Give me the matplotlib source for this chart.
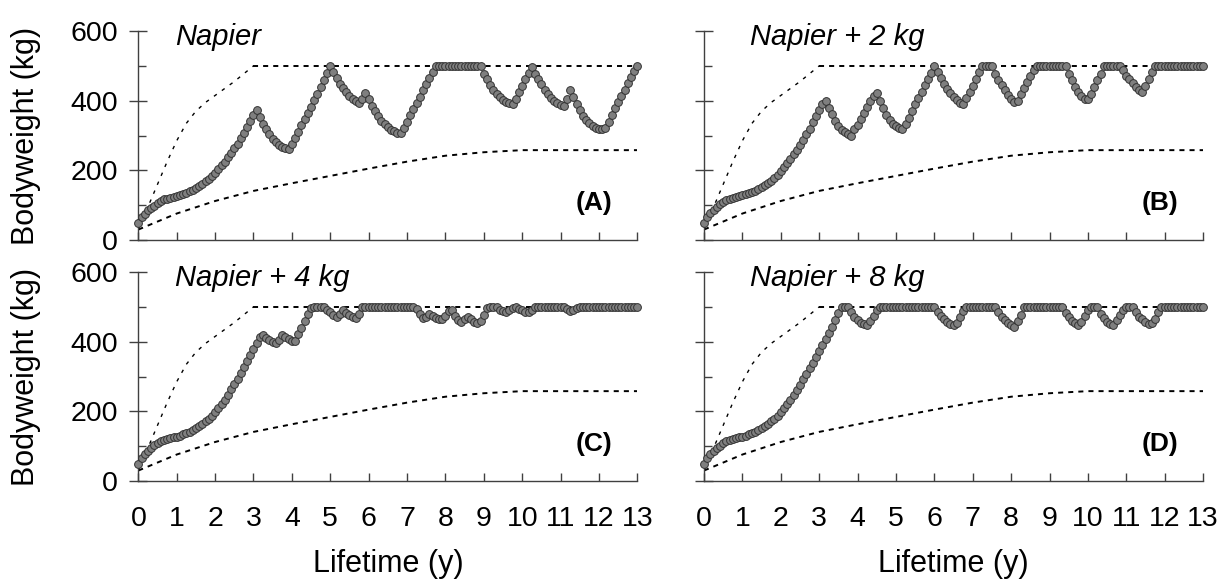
import numpy as np
import matplotlib.pyplot as plt

plt.rcParams['font.family'] = ['Liberation Sans', 'DejaVu Sans']

# monthly bodyweight (kg), one row per year of life, last value = month 156
napier = [
    50, 65, 76, 85, 92, 99, 106, 113, 117, 119, 121, 123,
    126, 129, 132, 136, 140, 144, 149, 155, 161, 168, 176, 184,
    193, 203, 214, 225, 237, 250, 263, 277, 292, 308, 325, 342,
    360, 372, 352, 334, 318, 304, 291, 281, 273, 267, 263, 261,
    275, 293, 311, 329, 347, 365, 383, 401, 420, 440, 460, 480,
    500, 482, 464, 449, 435, 424, 413, 404, 398, 393, 405, 421,
    404, 386, 370, 355, 342, 332, 324, 317, 312, 308, 306, 322,
    340, 358, 376, 394, 412, 430, 447, 464, 482, 500, 500, 500,
    500, 500, 500, 500, 500, 500, 500, 500, 500, 500, 500, 500,
    478, 462, 446, 431, 420, 410, 402, 396, 392, 390, 406, 424,
    442, 461, 480, 496, 478, 462, 447, 432, 420, 409, 400, 393,
    388, 386, 405, 430, 410, 390, 372, 357, 344, 335, 328, 323,
    320, 319, 322, 340, 360, 378, 396, 414, 432, 450, 467, 484,
    500,
]

napier_2kg = [
    50, 66, 78, 87, 95, 102, 110, 116, 119, 121, 123, 125,
    128, 131, 134, 138, 142, 146, 151, 157, 163, 170, 178, 188,
    198, 209, 221, 233, 246, 259, 272, 287, 303, 320, 338, 357,
    374, 390, 398, 378, 362, 343, 328, 316, 310, 303, 300, 318,
    331, 347, 364, 382, 399, 413, 421, 400, 378, 359, 344, 334,
    326, 322, 320, 333, 351, 371, 390, 407, 425, 444, 463, 480,
    500, 481, 464, 448, 433, 422, 412, 402, 394, 391, 408, 425,
    443, 462, 482, 500, 500, 500, 500, 476, 458, 444, 430, 417,
    406, 397, 400, 418, 437, 455, 472, 488, 500, 500, 500, 500,
    500, 500, 500, 500, 500, 500, 478, 458, 440, 424, 413, 406,
    404, 420, 438, 458, 478, 500, 500, 500, 500, 500, 500, 488,
    472, 461, 450, 440, 431, 426, 442, 462, 483, 500, 500, 500,
    500, 500, 500, 500, 500, 500, 500, 500, 500, 500, 500, 500,
    500,
]

napier_4kg = [
    50, 66, 78, 87, 95, 102, 110, 116, 119, 121, 123, 125,
    127, 130, 134, 138, 142, 147, 152, 158, 164, 171, 179, 188,
    198, 209, 221, 234, 248, 263, 278, 294, 310, 327, 344, 361,
    378, 396, 414, 420, 410, 404, 398, 395, 404, 420, 413, 407,
    403, 402, 421, 440, 460, 480, 496, 500, 500, 500, 500, 490,
    486, 478, 472, 480, 490, 482, 477, 472, 468, 480, 500, 500,
    500, 500, 500, 500, 500, 500, 500, 500, 500, 500, 500, 500,
    500, 500, 500, 495, 480, 468, 471, 480, 473, 467, 464, 466,
    473, 488, 492, 475, 461, 457, 466, 470, 464, 457, 454, 459,
    478, 498, 500, 500, 500, 492, 487, 485, 490, 497, 500, 495,
    490, 486, 485, 492, 500, 500, 500, 500, 500, 500, 500, 500,
    500, 500, 494, 488, 490, 497, 500, 500, 500, 500, 500, 500,
    500, 500, 500, 500, 500, 500, 500, 500, 500, 500, 500, 500,
    500,
]

napier_8kg = [
    50, 67, 78, 87, 94, 101, 109, 116, 119, 121, 123, 125,
    127, 130, 134, 138, 142, 147, 152, 158, 164, 171, 179, 188,
    198, 209, 221, 234, 248, 262, 277, 292, 308, 324, 340, 356,
    372, 390, 408, 425, 443, 462, 481, 500, 500, 500, 484, 470,
    461, 455, 450, 449, 458, 475, 490, 500, 500, 500, 500, 500,
    500, 500, 500, 500, 500, 500, 500, 500, 500, 500, 500, 500,
    500, 486, 474, 464, 456, 450, 447, 455, 470, 487, 500, 500,
    500, 500, 500, 500, 500, 500, 500, 500, 484, 472, 462, 455,
    448, 443, 458, 478, 500, 500, 500, 500, 500, 500, 500, 500,
    500, 500, 500, 500, 500, 482, 470, 460, 454, 448, 456, 473,
    492, 500, 500, 500, 480, 467, 457, 450, 448, 462, 476, 490,
    500, 500, 500, 484, 472, 464, 457, 451, 453, 464, 484, 500,
    500, 500, 500, 500, 500, 500, 500, 500, 500, 500, 500, 500,
    500,
]

# upper and lower reference growth curves
upper_age = [0, 0.25, 0.5, 0.75, 1.0, 1.25, 1.5, 1.75, 2.0, 2.5, 3.0, 13]
upper_bw = [30, 95, 160, 225, 285, 335, 370, 395, 415, 455, 500, 500]
lower_age = [0, 1, 2, 3, 4, 5, 6, 7, 8, 9, 10, 13]
lower_bw = [30, 76, 112, 141, 163, 184, 205, 225, 242, 252, 258, 258]

titles = ['Napier', 'Napier + 2 kg', 'Napier + 4 kg', 'Napier + 8 kg']
letters = ['(A)', '(B)', '(C)', '(D)']
series = [napier, napier_2kg, napier_4kg, napier_8kg]

age = np.arange(len(napier)) / 12.0

fig = plt.figure(figsize=(12.21, 5.81), dpi=100)
boxes = [
    [0.1133, 0.5869, 0.4087, 0.3597],
    [0.5766, 0.5869, 0.4087, 0.3597],
    [0.1133, 0.1721, 0.4087, 0.3597],
    [0.5766, 0.1721, 0.4087, 0.3597],
]
axis_col = '#404040'

for i in range(4):
    ax = fig.add_axes(boxes[i])
    left = i % 2 == 0
    bottom = i >= 2

    # rising part of the upper curve is drawn finer than its plateau
    ax.plot(upper_age[:-1], upper_bw[:-1], color='black', lw=1.0, ls=(0, (2.5, 4.5)), zorder=2)
    ax.plot(upper_age[-2:], upper_bw[-2:], color='black', lw=1.4, ls=(0, (2.6, 2.6)), zorder=2)
    ax.plot(lower_age, lower_bw, color='black', lw=1.4, ls=(0, (2.6, 2.6)), zorder=2)
    ax.plot(age, series[i], 'o', ms=5.6, mfc='#7f7f7f', mec='#333333', mew=0.7,
            clip_on=False, zorder=3)

    ax.set_xlim(0, 13)
    ax.set_ylim(0, 600)
    for s in ['top', 'right']:
        ax.spines[s].set_visible(False)
    for s in ['left', 'bottom']:
        ax.spines[s].set_color(axis_col)
        ax.spines[s].set_linewidth(1.0)

    ax.set_xticks(range(14))
    ax.set_yticks([0, 200, 400, 600])
    ax.set_yticks([100, 300, 500], minor=True)
    ax.tick_params(axis='x', direction='in', length=6, width=1.0, color=axis_col,
                   pad=18, labelsize=20.5, labelbottom=bottom)
    ax.tick_params(axis='y', which='major', direction='inout', length=13, width=1.0,
                   color=axis_col, pad=8, labelsize=20.5, labelleft=left)
    ax.tick_params(axis='y', which='minor', direction='in', length=6, width=1.0,
                   color=axis_col)

    if left:
        ax.set_ylabel('Bodyweight (kg)', fontsize=22)
        ax.yaxis.set_label_coords(-0.196, 0.5)
    if bottom:
        ax.set_xlabel('Lifetime (y)', fontsize=22)
        ax.xaxis.set_label_coords(0.5, -0.325)

    ax.text(0.95 if left else 1.2, 582, titles[i], fontsize=21, style='italic',
            ha='left', va='center')
    ax.text(12.35, 106, letters[i], fontsize=19, fontweight='bold',
            ha='right', va='center')

fig.savefig('out.png', dpi=100)
